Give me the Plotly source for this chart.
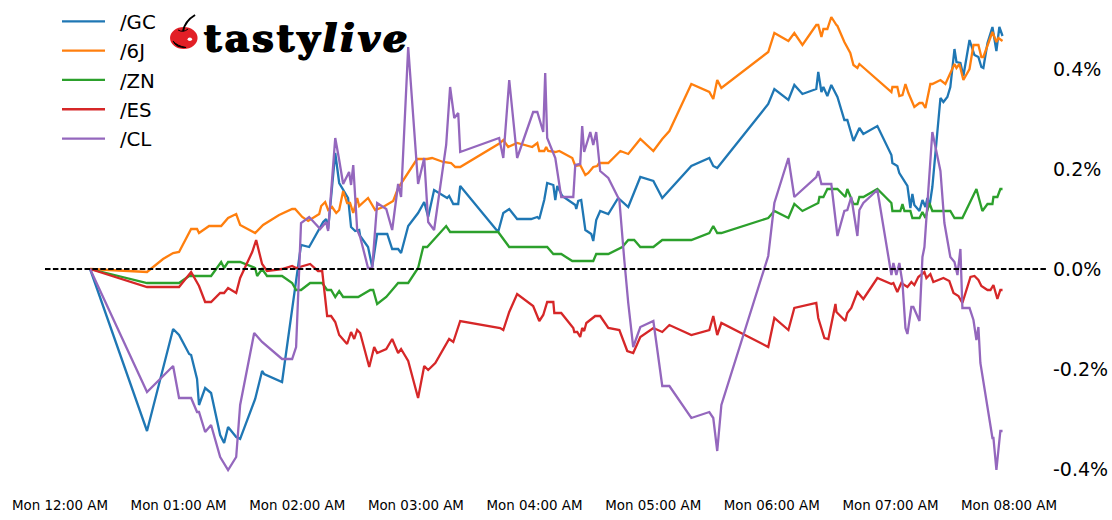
import pandas as pd
import plotly.graph_objects as go

# minutes after Monday 12:00 AM, and percent change
gc_t = [15.2,44.0,57.2,60.2,65.3,66.3,69.3,70.3,73.4,76.4,81.0,83.0,85.0,89.1,91.1,98.7,102.2,103.2,112.3,119.9,121.9,126.0,133.1,134.6,135.6,139.2,141.2,145.7,147.2,149.3,151.3,151.8,155.8,157.9,160.4,165.5,168.0,171.0,172.5,176.1,181.1,184.2,186.2,189.2,195.8,196.8,198.9,201.4,202.4,221.6,224.2,227.2,231.2,238.3,241.4,242.4,244.9,246.4,249.5,250.5,251.5,254.0,260.6,261.1,262.1,263.6,265.7,268.7,269.7,271.2,273.2,277.3,282.3,287.4,290.4,293.5,300.1,304.6,319.3,328.4,330.4,332.4,358.2,361.3,368.4,371.4,375.5,382.5,383.5,385.1,386.1,388.1,390.1,392.7,393.2,396.7,398.2,401.3,404.3,406.3,413.4,420.5,421.0,423.5,424.5,428.6,430.1,431.1,432.1,434.7,436.2,437.7,438.7,439.7,441.2,445.3,446.8,448.8,450.3,452.4,453.4,455.4,456.9,460.0,462.5,464.5,466.0,467.0,469.1,471.6,473.6,475.1,476.7]
gc_v = [0,-0.324,-0.120,-0.132,-0.170,-0.172,-0.220,-0.272,-0.238,-0.248,-0.332,-0.348,-0.316,-0.336,-0.340,-0.260,-0.204,-0.210,-0.226,-0.002,0.048,0.044,0.094,0.100,0.080,0.232,0.172,0.142,0.084,0.076,0.078,0.066,0.044,0.004,0.070,0.070,0.040,0.040,0.032,0.086,0.112,0.134,0.104,0.158,0.142,0.146,0.130,0.130,0.166,0.074,0.112,0.120,0.100,0.100,0.104,0.100,0.138,0.172,0.168,0.138,0.166,0.146,0.128,0.120,0.136,0.138,0.078,0.070,0.056,0.098,0.116,0.110,0.142,0.124,0.152,0.184,0.176,0.142,0.206,0.222,0.206,0.202,0.330,0.360,0.338,0.368,0.350,0.360,0.394,0.354,0.364,0.346,0.368,0.346,0.344,0.298,0.298,0.256,0.282,0.270,0.286,0.228,0.212,0.206,0.192,0.166,0.122,0.150,0.128,0.116,0.138,0.124,0.142,0.124,0.164,0.342,0.334,0.344,0.364,0.440,0.414,0.412,0.386,0.458,0.428,0.424,0.404,0.402,0.452,0.484,0.436,0.484,0.466]

j6_t = [15.2,44.0,52.1,57.2,60.2,66.3,69.3,70.3,75.4,81.5,85.0,89.1,91.1,98.7,102.7,110.8,117.4,118.9,122.5,125.5,131.1,132.1,134.1,135.6,137.6,139.7,141.2,143.2,145.2,146.7,148.3,150.3,151.3,155.8,159.4,163.4,168.5,171.0,180.6,185.7,188.2,193.8,197.8,199.9,202.4,222.6,224.2,226.7,231.2,238.8,241.4,242.4,244.9,245.9,246.9,250.5,252.5,259.1,260.6,263.1,265.7,267.2,269.7,271.7,272.7,277.3,283.4,287.4,293.5,300.1,304.6,308.2,319.3,328.4,330.4,332.4,334.5,358.2,361.3,368.4,371.4,375.5,382.5,383.5,385.1,386.1,388.1,390.1,392.7,393.2,396.7,399.7,401.3,403.3,404.3,420.5,421.0,423.5,424.5,426.1,427.6,429.1,432.1,434.7,436.2,437.7,440.2,441.2,445.3,447.8,452.4,453.4,454.9,456.9,460.0,462.0,464.5,466.0,467.0,471.6,473.6,474.6,476.7]
j6_v = [0,-0.006,0.020,0.032,0.034,0.080,0.080,0.072,0.086,0.086,0.102,0.110,0.088,0.072,0.088,0.108,0.120,0.120,0.104,0.096,0.110,0.126,0.134,0.118,0.124,0.112,0.118,0.156,0.132,0.132,0.112,0.142,0.126,0.142,0.118,0.124,0.136,0.162,0.220,0.220,0.222,0.214,0.212,0.204,0.204,0.252,0.258,0.244,0.252,0.244,0.252,0.236,0.236,0.244,0.236,0.234,0.236,0.222,0.206,0.208,0.188,0.192,0.204,0.206,0.212,0.212,0.236,0.230,0.260,0.236,0.260,0.276,0.370,0.354,0.340,0.378,0.362,0.434,0.472,0.456,0.472,0.448,0.488,0.488,0.464,0.480,0.480,0.504,0.488,0.486,0.454,0.432,0.408,0.402,0.410,0.354,0.364,0.364,0.346,0.348,0.370,0.352,0.324,0.332,0.332,0.322,0.370,0.370,0.378,0.370,0.410,0.402,0.410,0.378,0.400,0.448,0.448,0.424,0.424,0.474,0.454,0.462,0.456]

zn_t = [15.2,44.0,60.2,65.3,76.4,81.5,83.0,85.0,91.1,98.7,99.7,102.2,104.7,112.3,117.4,119.4,121.9,126.5,132.6,135.1,137.1,139.2,141.2,143.2,150.8,156.9,158.4,160.4,165.0,171.0,176.1,181.1,183.7,185.7,195.3,197.3,221.6,227.2,246.4,249.5,253.5,259.1,269.7,271.2,277.3,284.4,287.4,290.4,293.5,300.1,304.6,319.3,328.4,330.4,332.4,334.5,358.2,361.3,368.4,371.4,375.5,383.5,384.1,386.1,388.1,393.2,397.2,398.2,401.3,403.3,404.3,406.3,413.4,420.5,421.0,425.0,426.1,427.1,430.1,431.1,434.7,436.2,437.7,439.7,441.2,450.3,452.4,456.4,463.5,466.5,469.1,471.6,472.1,474.1,475.6,476.7]
zn_v = [0,-0.028,-0.028,-0.014,-0.014,0.014,0.002,0.014,0.014,0.002,-0.014,0,-0.014,-0.014,-0.028,-0.042,-0.042,-0.028,-0.028,-0.042,-0.042,-0.056,-0.044,-0.056,-0.056,-0.042,-0.042,-0.070,-0.056,-0.028,-0.028,0.002,0.044,0.044,0.086,0.074,0.074,0.044,0.044,0.030,0.030,0.016,0.016,0.030,0.030,0.044,0.058,0.058,0.044,0.044,0.058,0.058,0.072,0.086,0.072,0.072,0.102,0.116,0.102,0.130,0.116,0.132,0.144,0.144,0.160,0.160,0.144,0.160,0.130,0.130,0.144,0.144,0.160,0.132,0.116,0.116,0.130,0.116,0.116,0.102,0.102,0.114,0.102,0.132,0.116,0.116,0.102,0.102,0.160,0.116,0.130,0.130,0.144,0.144,0.160,0.160]

es_t = [15.2,44.0,60.2,66.3,70.3,73.4,76.4,81.0,83.0,85.0,89.1,91.1,97.2,99.2,102.2,104.7,112.3,117.4,119.4,126.5,130.5,132.6,135.1,137.1,139.2,141.2,145.2,147.2,148.8,150.3,151.8,156.4,158.9,160.4,165.0,168.0,171.0,172.5,176.1,181.1,184.2,186.2,189.8,196.8,198.9,202.4,222.6,224.2,227.2,231.2,239.3,242.4,244.4,246.4,249.5,250.0,253.5,259.6,260.1,261.6,263.1,264.1,265.1,266.2,270.7,273.2,277.3,282.9,286.9,289.9,293.5,300.1,304.6,308.2,319.3,328.4,330.4,332.4,334.5,358.2,361.3,368.4,371.4,375.5,382.5,383.5,386.6,388.6,392.2,392.7,397.2,398.2,400.2,403.3,406.3,413.4,420.5,421.5,423.5,425.5,428.6,430.6,432.1,434.1,437.2,438.2,440.2,441.7,446.8,449.8,451.9,454.4,456.4,460.5,462.5,464.5,466.0,469.1,470.6,472.1,474.1,475.6,476.7]
es_v = [0,-0.036,-0.036,-0.006,-0.034,-0.066,-0.066,-0.048,-0.048,-0.038,-0.048,-0.018,0.034,0.058,0.010,-0.004,0,0.006,0.002,0.010,-0.004,-0.004,-0.094,-0.094,-0.106,-0.132,-0.150,-0.126,-0.140,-0.122,-0.128,-0.196,-0.156,-0.168,-0.160,-0.140,-0.168,-0.160,-0.184,-0.258,-0.194,-0.202,-0.188,-0.140,-0.146,-0.104,-0.118,-0.122,-0.086,-0.050,-0.074,-0.104,-0.092,-0.066,-0.066,-0.088,-0.088,-0.118,-0.126,-0.126,-0.136,-0.118,-0.124,-0.108,-0.094,-0.094,-0.118,-0.122,-0.164,-0.168,-0.136,-0.118,-0.126,-0.112,-0.132,-0.122,-0.094,-0.132,-0.108,-0.156,-0.098,-0.122,-0.078,-0.074,-0.068,-0.098,-0.138,-0.140,-0.070,-0.086,-0.104,-0.088,-0.078,-0.046,-0.060,-0.018,-0.030,-0.028,-0.046,-0.028,-0.036,-0.026,-0.032,-0.016,-0.006,-0.018,-0.010,-0.026,-0.018,-0.024,-0.048,-0.054,-0.068,-0.016,-0.014,-0.022,-0.034,-0.042,-0.042,-0.032,-0.060,-0.042,-0.042]

cl_t = [15.2,44.0,57.2,60.2,66.3,69.3,70.3,73.4,76.4,81.0,85.0,89.1,91.1,98.2,102.2,112.3,117.4,119.4,121.9,126.0,131.6,134.6,135.6,139.2,141.2,143.2,146.2,147.2,148.3,150.3,151.8,155.8,157.9,160.4,165.0,168.0,171.0,172.5,176.1,181.1,184.2,186.2,189.2,195.3,197.3,199.4,201.4,202.4,222.1,224.2,227.2,231.2,239.3,241.4,244.4,245.4,246.4,250.5,253.5,259.6,260.6,263.1,264.1,265.1,268.2,269.7,271.2,273.2,277.3,282.9,285.4,287.4,289.9,293.5,300.1,304.6,308.2,319.3,328.4,330.4,332.4,334.5,358.2,361.3,368.4,371.4,382.5,383.5,385.1,390.1,393.2,396.7,398.2,400.2,403.3,404.3,406.3,413.4,420.5,421.5,423.0,424.5,426.1,427.6,428.6,430.6,431.6,434.7,436.2,437.2,441.2,445.3,447.3,450.3,452.4,453.9,455.4,456.4,460.0,462.0,463.5,464.5,465.5,469.1,471.6,472.1,473.6,475.6,476.7]
cl_v = [0,-0.246,-0.194,-0.258,-0.258,-0.286,-0.286,-0.326,-0.312,-0.376,-0.402,-0.376,-0.272,-0.128,-0.146,-0.180,-0.180,-0.156,0.092,0.104,0.080,0.094,0.076,0.262,0.218,0.170,0.194,0.168,0.208,0.078,0.064,0.002,0.002,0.132,0.120,0.078,0.170,0.144,0.444,0.170,0.222,0.094,0.078,0.248,0.364,0.302,0.312,0.234,0.262,0.222,0.378,0.222,0.314,0.314,0.274,0.392,0.262,0.222,0.144,0.144,0.208,0.210,0.286,0.234,0.274,0.248,0.274,0.196,0.182,0.138,0.018,-0.068,-0.156,-0.116,-0.104,-0.234,-0.234,-0.298,-0.286,-0.298,-0.364,-0.272,0.026,0.132,0.222,0.144,0.184,0.196,0.170,0.170,0.066,0.116,0.118,0.144,0.066,0.118,0.132,0.158,-0.012,0.012,-0.012,0.012,-0.028,-0.118,-0.130,-0.076,-0.076,-0.104,0.024,0.044,0.274,0.196,0.092,0.024,0.014,-0.012,0.040,-0.078,-0.078,-0.102,-0.142,-0.116,-0.188,-0.276,-0.338,-0.338,-0.402,-0.324,-0.324]

names = ["/GC", "/6J", "/ZN", "/ES", "/CL"]
colors = ["#1f77b4", "#ff7f0e", "#2ca02c", "#d62728", "#9467bd"]
times = [gc_t, j6_t, zn_t, es_t, cl_t]
values = [gc_v, j6_v, zn_v, es_v, cl_v]

hour_ticks = list(range(0, 540, 60))
x_labels = ["Mon 12:00 AM", "Mon 01:00 AM", "Mon 02:00 AM", "Mon 03:00 AM", "Mon 04:00 AM",
            "Mon 05:00 AM", "Mon 06:00 AM", "Mon 07:00 AM", "Mon 08:00 AM"]
y_ticks = [-0.4, -0.2, 0.0, 0.2, 0.4]
y_labels = ["-0.4%", "-0.2%", "0.0%", "0.2%", "0.4%"]

base = pd.Timestamp("2024-01-01")
def stamp(minutes):
    return [base + pd.Timedelta(minutes=float(m)) for m in minutes]

# The page's own 8 px body margin is removed at the end, so page pixels = figure pixels.
W, H = 1112, 520
LEFT, RIGHT, TOP, BOTTOM = 45, 1047.6, 0, 490   # plot area, page pixels
ML, MR, MT, MB = LEFT, W - RIGHT, TOP, H - BOTTOM
def px(x):
    return (x - LEFT) / (RIGHT - LEFT)
def py(y):
    return 1 - (y - TOP) / (BOTTOM - TOP)

fig = go.Figure()
for n, c, t, v in zip(names, colors, times, values):
    fig.add_trace(go.Scatter(x=stamp(t), y=v, mode="lines", name="\u2002" + n, legendgroup=n,
                             line=dict(color=c, width=2.3), hoverinfo="skip"))

shapes = [
    dict(type="line", xref="x domain", yref="y", x0=0, x1=1, y0=0, y1=0,
         line=dict(color="black", width=2, dash="5.5px,2.4px"), layer="above"),
    # cherry of the logo
    dict(type="circle", xref="paper", yref="paper", x0=px(170), x1=px(197.5), y0=py(49), y1=py(27),
         fillcolor="#e21f26", line=dict(width=0)),
    dict(type="path", xref="paper", yref="paper",
         path=f"M {px(173)} {py(41)} Q {px(176)} {py(48)} {px(186)} {py(47.5)} Q {px(177)} {py(46)} {px(173)} {py(41)} Z",
         fillcolor="black", line=dict(color="black", width=1)),
    dict(type="path", xref="paper", yref="paper",
         path=f"M {px(183)} {py(31)} Q {px(185)} {py(21)} {px(195)} {py(15)}",
         line=dict(color="black", width=2)),
    dict(type="path", xref="paper", yref="paper",
         path=f"M {px(178)} {py(30)} Q {px(183)} {py(33)} {px(188)} {py(29)}",
         line=dict(color="black", width=1)),
    dict(type="circle", xref="paper", yref="paper", x0=px(187.5), x1=px(192), y0=py(41), y1=py(37.5),
         fillcolor="white", line=dict(width=0)),
]

annotations = [
    dict(text='<span style="letter-spacing:3.1px"><b>tasty<i>live</i></b></span>',
         xref="paper", yref="paper", x=px(202), y=py(37),
         xanchor="left", yanchor="middle", showarrow=False,
         font=dict(family="DejaVu Serif", size=38, color="black",
                   shadow="1px 0 0 black, -1px 0 0 black, 0 1px 0 black")),
]

fig.update_layout(
    width=W, height=H, autosize=False,
    margin=dict(l=ML, r=MR, t=MT, b=MB, pad=0, autoexpand=False),
    paper_bgcolor="white", plot_bgcolor="white",
    font=dict(family="DejaVu Sans", color="black"),
    showlegend=True,
    legend=dict(x=px(57), y=py(2), xanchor="left", yanchor="top", bgcolor="rgba(0,0,0,0)",
                font=dict(size=19.8, family="DejaVu Sans"), tracegroupgap=0.56, itemwidth=43,
                traceorder="grouped"),
    xaxis=dict(type="date",
               range=[base + pd.Timedelta(minutes=-7.6), base + pd.Timedelta(minutes=499.7)],
               tickmode="array", tickvals=stamp(hour_ticks), ticktext=x_labels,
               showgrid=False, zeroline=False, showline=False, ticks="",
               tickfont=dict(size=13.4, color="black"), tickangle=0, ticklabelstandoff=6),
    yaxis=dict(range=[-0.442, 0.538], side="right", tickmode="array", tickvals=y_ticks, ticktext=y_labels,
               showgrid=False, zeroline=False, showline=False, ticks="",
               tickfont=dict(size=19, color="black"), ticklabelstandoff=4),
    shapes=shapes, annotations=annotations,
)

fig.write_html("out.html", config=dict(displayModeBar=False),
               post_script="document.body.style.margin='0';")
